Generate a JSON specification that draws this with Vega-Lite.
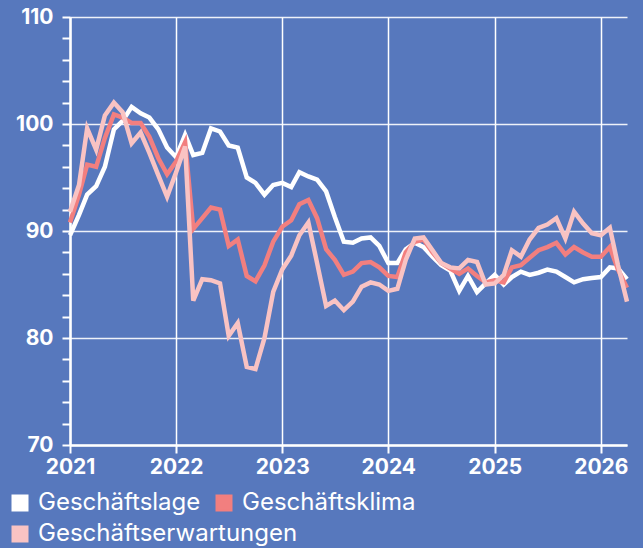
{
  "$schema": "https://vega.github.io/schema/vega-lite/v6.json",
  "width": 557,
  "height": 428,
  "autosize": {"type": "none"},
  "padding": {"left": 70, "top": 17, "right": 16, "bottom": 103},
  "background": "#5778bd",
  "config": {"view": {"stroke": null}, "font": "Inter"},
  "title": {"text": "INSM", "orient": "bottom", "anchor": "end", "align": "left", "frame": "group", "dx": -74, "offset": 55, "baseline": "top", "color": "#ffffff", "fontSize": 40, "fontWeight": "bold", "font": "Inter"},
  "data": {
    "values": [
      {"d": "2021-01-01", "Geschäftslage": 89.6, "Geschäftsklima": 90.8, "Geschäftserwartungen": 91.8},
      {"d": "2021-02-01", "Geschäftslage": 91.5, "Geschäftsklima": 93.4, "Geschäftserwartungen": 94.3},
      {"d": "2021-03-01", "Geschäftslage": 93.4, "Geschäftsklima": 96.2, "Geschäftserwartungen": 99.6},
      {"d": "2021-04-01", "Geschäftslage": 94.2, "Geschäftsklima": 96.0, "Geschäftserwartungen": 97.6},
      {"d": "2021-05-01", "Geschäftslage": 96.0, "Geschäftsklima": 98.7, "Geschäftserwartungen": 100.8},
      {"d": "2021-06-01", "Geschäftslage": 99.5, "Geschäftsklima": 100.9, "Geschäftserwartungen": 102.0},
      {"d": "2021-07-01", "Geschäftslage": 100.3, "Geschäftsklima": 100.6, "Geschäftserwartungen": 101.1},
      {"d": "2021-08-01", "Geschäftslage": 101.6, "Geschäftsklima": 100.1, "Geschäftserwartungen": 98.2},
      {"d": "2021-09-01", "Geschäftslage": 101.0, "Geschäftsklima": 100.1, "Geschäftserwartungen": 99.2},
      {"d": "2021-10-01", "Geschäftslage": 100.6, "Geschäftsklima": 98.8, "Geschäftserwartungen": 97.3},
      {"d": "2021-11-01", "Geschäftslage": 99.5, "Geschäftsklima": 96.8, "Geschäftserwartungen": 95.2},
      {"d": "2021-12-01", "Geschäftslage": 97.8, "Geschäftsklima": 95.3, "Geschäftserwartungen": 93.2},
      {"d": "2022-01-01", "Geschäftslage": 96.9, "Geschäftsklima": 96.5, "Geschäftserwartungen": 95.5},
      {"d": "2022-02-01", "Geschäftslage": 99.0, "Geschäftsklima": 98.3, "Geschäftserwartungen": 97.9},
      {"d": "2022-03-01", "Geschäftslage": 97.1, "Geschäftsklima": 90.2, "Geschäftserwartungen": 83.5},
      {"d": "2022-04-01", "Geschäftslage": 97.3, "Geschäftsklima": 91.2, "Geschäftserwartungen": 85.5},
      {"d": "2022-05-01", "Geschäftslage": 99.6, "Geschäftsklima": 92.2, "Geschäftserwartungen": 85.4},
      {"d": "2022-06-01", "Geschäftslage": 99.3, "Geschäftsklima": 92.0, "Geschäftserwartungen": 85.1},
      {"d": "2022-07-01", "Geschäftslage": 98.0, "Geschäftsklima": 88.6, "Geschäftserwartungen": 80.2},
      {"d": "2022-08-01", "Geschäftslage": 97.8, "Geschäftsklima": 89.2, "Geschäftserwartungen": 81.4},
      {"d": "2022-09-01", "Geschäftslage": 95.0, "Geschäftsklima": 85.8, "Geschäftserwartungen": 77.3},
      {"d": "2022-10-01", "Geschäftslage": 94.5, "Geschäftsklima": 85.3, "Geschäftserwartungen": 77.1},
      {"d": "2022-11-01", "Geschäftslage": 93.4, "Geschäftsklima": 86.8, "Geschäftserwartungen": 80.0},
      {"d": "2022-12-01", "Geschäftslage": 94.3, "Geschäftsklima": 89.0, "Geschäftserwartungen": 84.3},
      {"d": "2023-01-01", "Geschäftslage": 94.5, "Geschäftsklima": 90.4, "Geschäftserwartungen": 86.4},
      {"d": "2023-02-01", "Geschäftslage": 94.1, "Geschäftsklima": 91.0, "Geschäftserwartungen": 87.7},
      {"d": "2023-03-01", "Geschäftslage": 95.5, "Geschäftsklima": 92.5, "Geschäftserwartungen": 89.6},
      {"d": "2023-04-01", "Geschäftslage": 95.1, "Geschäftsklima": 92.9, "Geschäftserwartungen": 90.8},
      {"d": "2023-05-01", "Geschäftslage": 94.8, "Geschäftsklima": 91.2, "Geschäftserwartungen": 87.0},
      {"d": "2023-06-01", "Geschäftslage": 93.7, "Geschäftsklima": 88.3, "Geschäftserwartungen": 83.0},
      {"d": "2023-07-01", "Geschäftslage": 91.3, "Geschäftsklima": 87.3, "Geschäftserwartungen": 83.5},
      {"d": "2023-08-01", "Geschäftslage": 89.0, "Geschäftsklima": 85.9, "Geschäftserwartungen": 82.6},
      {"d": "2023-09-01", "Geschäftslage": 88.9, "Geschäftsklima": 86.2, "Geschäftserwartungen": 83.4},
      {"d": "2023-10-01", "Geschäftslage": 89.3, "Geschäftsklima": 87.0, "Geschäftserwartungen": 84.8},
      {"d": "2023-11-01", "Geschäftslage": 89.4, "Geschäftsklima": 87.1, "Geschäftserwartungen": 85.2},
      {"d": "2023-12-01", "Geschäftslage": 88.6, "Geschäftsklima": 86.6, "Geschäftserwartungen": 85.0},
      {"d": "2024-01-01", "Geschäftslage": 87.0, "Geschäftsklima": 85.8, "Geschäftserwartungen": 84.4},
      {"d": "2024-02-01", "Geschäftslage": 87.0, "Geschäftsklima": 85.7, "Geschäftserwartungen": 84.6},
      {"d": "2024-03-01", "Geschäftslage": 88.3, "Geschäftsklima": 88.0, "Geschäftserwartungen": 87.3},
      {"d": "2024-04-01", "Geschäftslage": 88.9, "Geschäftsklima": 89.0, "Geschäftserwartungen": 89.3},
      {"d": "2024-05-01", "Geschäftslage": 88.5, "Geschäftsklima": 89.2, "Geschäftserwartungen": 89.4},
      {"d": "2024-06-01", "Geschäftslage": 87.6, "Geschäftsklima": 88.0, "Geschäftserwartungen": 88.2},
      {"d": "2024-07-01", "Geschäftslage": 86.8, "Geschäftsklima": 87.0, "Geschäftserwartungen": 87.0},
      {"d": "2024-08-01", "Geschäftslage": 86.3, "Geschäftsklima": 86.5, "Geschäftserwartungen": 86.6},
      {"d": "2024-09-01", "Geschäftslage": 84.4, "Geschäftsklima": 86.0, "Geschäftserwartungen": 86.5},
      {"d": "2024-10-01", "Geschäftslage": 85.8, "Geschäftsklima": 86.5, "Geschäftserwartungen": 87.3},
      {"d": "2024-11-01", "Geschäftslage": 84.3, "Geschäftsklima": 85.8, "Geschäftserwartungen": 87.1},
      {"d": "2024-12-01", "Geschäftslage": 85.1, "Geschäftsklima": 85.2, "Geschäftserwartungen": 85.0},
      {"d": "2025-01-01", "Geschäftslage": 85.9, "Geschäftsklima": 85.4, "Geschäftserwartungen": 85.1},
      {"d": "2025-02-01", "Geschäftslage": 85.0, "Geschäftsklima": 85.2, "Geschäftserwartungen": 85.9},
      {"d": "2025-03-01", "Geschäftslage": 85.7, "Geschäftsklima": 86.6, "Geschäftserwartungen": 88.2},
      {"d": "2025-04-01", "Geschäftslage": 86.2, "Geschäftsklima": 86.8, "Geschäftserwartungen": 87.6},
      {"d": "2025-05-01", "Geschäftslage": 85.9, "Geschäftsklima": 87.5, "Geschäftserwartungen": 89.2},
      {"d": "2025-06-01", "Geschäftslage": 86.1, "Geschäftsklima": 88.2, "Geschäftserwartungen": 90.3},
      {"d": "2025-07-01", "Geschäftslage": 86.4, "Geschäftsklima": 88.5, "Geschäftserwartungen": 90.6},
      {"d": "2025-08-01", "Geschäftslage": 86.2, "Geschäftsklima": 88.9, "Geschäftserwartungen": 91.2},
      {"d": "2025-09-01", "Geschäftslage": 85.7, "Geschäftsklima": 87.8, "Geschäftserwartungen": 89.3},
      {"d": "2025-10-01", "Geschäftslage": 85.2, "Geschäftsklima": 88.5, "Geschäftserwartungen": 91.8},
      {"d": "2025-11-01", "Geschäftslage": 85.5, "Geschäftsklima": 88.0, "Geschäftserwartungen": 90.7},
      {"d": "2025-12-01", "Geschäftslage": 85.6, "Geschäftsklima": 87.6, "Geschäftserwartungen": 89.8},
      {"d": "2026-01-01", "Geschäftslage": 85.7, "Geschäftsklima": 87.6, "Geschäftserwartungen": 89.6},
      {"d": "2026-02-01", "Geschäftslage": 86.6, "Geschäftsklima": 88.5, "Geschäftserwartungen": 90.3},
      {"d": "2026-03-01", "Geschäftslage": 86.5, "Geschäftsklima": 86.4, "Geschäftserwartungen": 86.8},
      {"d": "2026-04-01", "Geschäftslage": 85.5, "Geschäftsklima": 84.7, "Geschäftserwartungen": 83.4}
    ]
  },
  "transform": [
    {"fold": ["Geschäftslage", "Geschäftsklima", "Geschäftserwartungen"], "as": ["serie", "wert"]}
  ],
  "encoding": {
    "x": {
      "field": "d",
      "type": "temporal",
      "scale": {"type": "utc", "domain": [{"year": 2021, "month": 1, "date": 1, "utc": true}, {"year": 2026, "month": 4, "date": 1, "utc": true}]},
      "axis": {
        "title": null,
        "format": "%Y",
        "tickCount": "year",
        "labelFlush": false,
        "labelOverlap": false,
        "domainColor": "#ffffff",
        "domainWidth": 2.5,
        "tickColor": "#ffffff",
        "tickWidth": 2,
        "tickSize": 8,
        "labelColor": "#ffffff",
        "labelFont": "Inter",
        "labelFontSize": 21,
        "labelFontWeight": "bold",
        "labelPadding": 3,
        "grid": true,
        "gridColor": "#ffffff",
        "gridWidth": 1.5
      }
    },
    "y": {
      "field": "wert",
      "type": "quantitative",
      "scale": {"domain": [70, 110], "nice": false, "zero": false},
      "axis": {
        "title": null,
        "values": [70, 72, 74, 76, 78, 80, 82, 84, 86, 88, 90, 92, 94, 96, 98, 100, 102, 104, 106, 108, 110],
        "labelExpr": "datum.value % 10 === 0 ? datum.label : ''",
        "domainColor": "#ffffff",
        "domainWidth": 2.5,
        "tickColor": "#ffffff",
        "tickWidth": 2,
        "tickSize": 8,
        "labelColor": "#ffffff",
        "labelFont": "Inter",
        "labelFontSize": 21,
        "labelFontWeight": "bold",
        "labelPadding": 9,
        "grid": true,
        "gridColor": "#ffffff",
        "gridWidth": 1.5,
        "gridOpacity": {"condition": {"test": "datum.value % 10 === 0", "value": 0.9}, "value": 0}
      }
    }
  },
  "layer": [
    {
      "transform": [{"filter": "datum.serie !== 'Geschäftserwartungen'"}],
      "mark": {"type": "line", "strokeWidth": 4.5, "strokeJoin": "miter"},
      "encoding": {
        "color": {
          "field": "serie",
          "type": "nominal",
          "sort": ["Geschäftslage", "Geschäftsklima"],
          "scale": {"domain": ["Geschäftslage", "Geschäftsklima"], "range": ["#ffffff", "#f27f7f"]},
          "legend": {
            "title": null,
            "orient": "none",
            "direction": "horizontal",
            "legendX": -62,
            "legendY": 474,
            "padding": 0,
            "symbolType": "square",
            "symbolSize": 225,
            "symbolStrokeWidth": 2,
            "labelColor": "#ffffff",
            "labelFont": "Inter",
            "labelFontSize": 24,
            "labelLimit": 400,
            "labelOffset": 6,
            "columnPadding": 11,
            "encode": {
              "symbols": {
                "update": {
                  "fill": {"scale": "color", "field": "value"},
                  "stroke": {"value": "#2b3d8f"},
                  "strokeWidth": {"value": 2},
                  "opacity": {"value": 1}
                }
              }
            }
          }
        }
      }
    },
    {
      "transform": [{"filter": "datum.serie === 'Geschäftserwartungen'"}],
      "mark": {"type": "line", "strokeWidth": 4.5, "strokeJoin": "miter"},
      "encoding": {
        "stroke": {
          "field": "serie",
          "type": "nominal",
          "scale": {"domain": ["Geschäftserwartungen"], "range": ["#f9c3c3"]},
          "legend": {
            "title": null,
            "orient": "none",
            "direction": "horizontal",
            "legendX": -62,
            "legendY": 505,
            "padding": 0,
            "symbolType": "square",
            "symbolSize": 225,
            "symbolStrokeWidth": 2,
            "labelColor": "#ffffff",
            "labelFont": "Inter",
            "labelFontSize": 24,
            "labelLimit": 400,
            "labelOffset": 6,
            "encode": {
              "symbols": {
                "update": {
                  "fill": {"scale": "stroke", "field": "value"},
                  "stroke": {"value": "#2b3d8f"},
                  "strokeWidth": {"value": 2},
                  "opacity": {"value": 1}
                }
              }
            }
          }
        }
      }
    }
  ]
}
